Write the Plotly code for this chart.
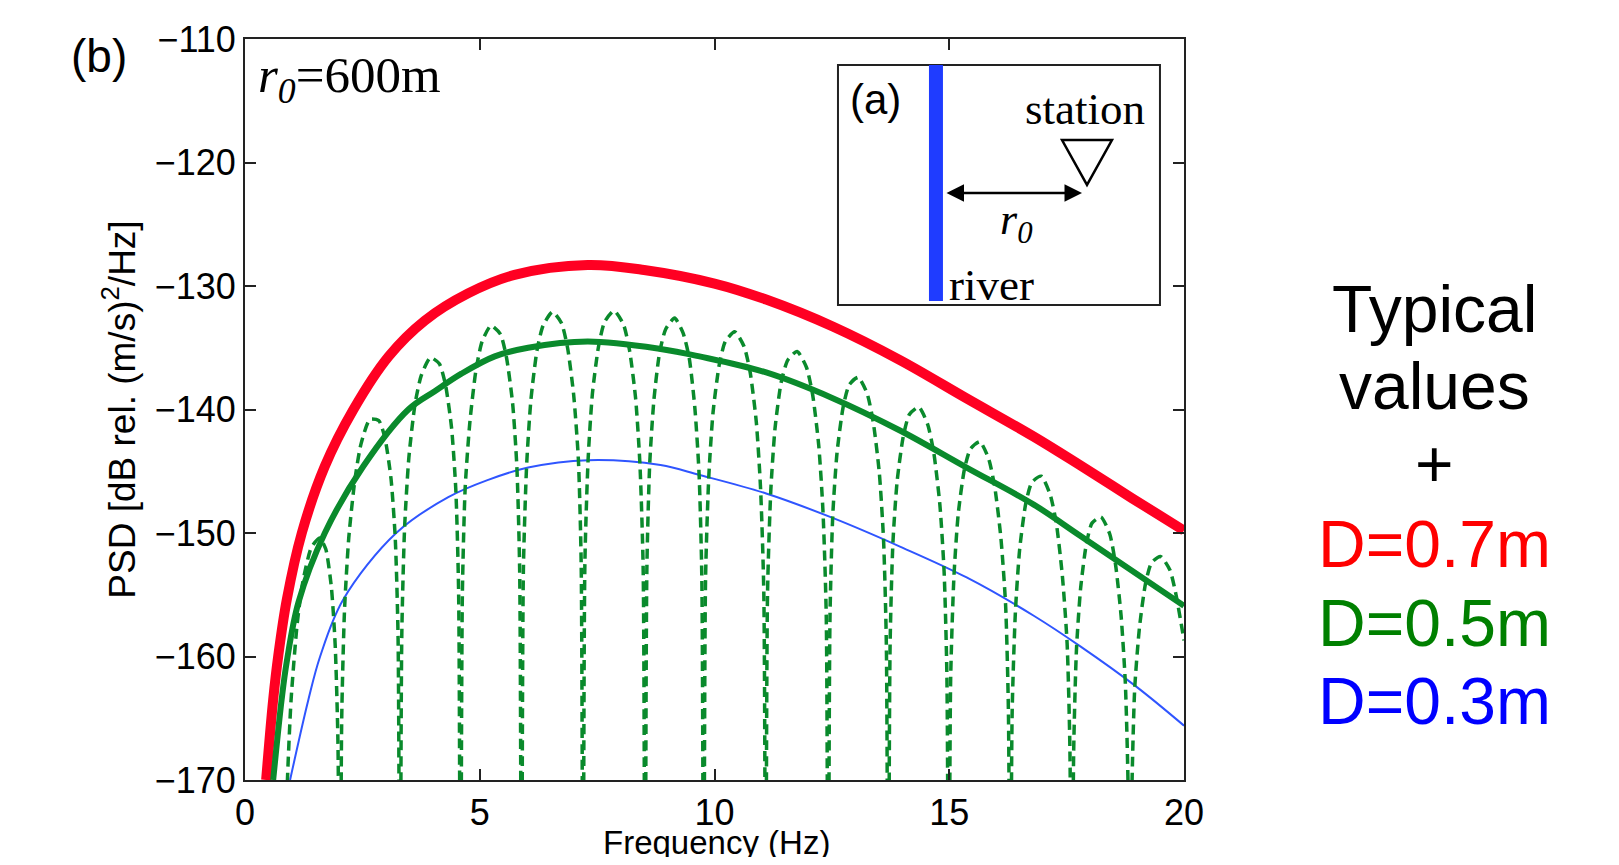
import plotly.graph_objects as go

# ---------------- data ----------------
# D = 0.7 m (red, thick)
red_freq = [0.45, 0.60, 0.71, 0.89, 1.21, 1.70, 2.31, 3.06, 3.83, 4.75, 5.74, 7.30,
            8.50, 10.00, 11.10, 12.53, 13.95, 15.37, 16.80, 17.78, 18.90, 20.00]
red_psd = [-170.0, -163.5, -159.9, -155.4, -150.0, -144.6, -140.0, -135.7, -132.8, -130.6, -129.1, -128.3,
           -128.7, -129.8, -131.1, -133.3, -136.0, -139.1, -142.2, -144.5, -147.2, -149.8]

# D = 0.5 m (green, solid)
green_freq = [0.60, 0.78, 0.89, 1.14, 1.70, 2.52, 3.48, 4.05, 4.61, 5.32, 6.03, 7.30,
              8.85, 9.68, 11.10, 12.53, 13.95, 15.37, 16.80, 17.78, 20.00]
green_psd = [-170.0, -163.5, -160.4, -155.6, -150.0, -144.6, -140.0, -138.5, -137.1, -135.7, -135.0, -134.5,
             -135.1, -135.7, -137.0, -139.1, -141.7, -144.7, -147.7, -150.2, -155.9]

# D = 0.3 m (blue, thin)
blue_freq = [0.96, 1.35, 1.60, 2.09, 3.22, 4.33, 5.18, 6.03, 7.30, 8.85, 9.68, 11.10,
             12.53, 13.95, 15.37, 16.80, 17.80, 18.97, 20.00]
blue_psd = [-170.0, -163.5, -160.0, -155.4, -150.0, -147.1, -145.7, -144.7, -144.1, -144.5, -145.3, -146.8,
            -148.8, -151.1, -153.6, -156.7, -159.2, -162.4, -165.6]

# D = 0.5 m (green, dashed, with notches; -200 = notch far below the axis)
NOTCH = -200
dashed_freq = [
    0.80, 0.84, 0.90, 0.98, 1.11, 1.23, 1.41, 1.59, 1.72, 1.84, 1.92, 1.98,
    2.02, 2.06, 2.12, 2.21, 2.34, 2.47, 2.66, 2.85, 2.98, 3.11, 3.20, 3.26,
    3.30, 3.34, 3.40, 3.49, 3.62, 3.75, 3.95, 4.14, 4.27, 4.40, 4.49, 4.55,
    4.59, 4.63, 4.69, 4.79, 4.92, 5.05, 5.24, 5.44, 5.57, 5.70, 5.79, 5.85,
    5.89, 5.93, 6.00, 6.09, 6.22, 6.35, 6.55, 6.74, 6.87, 7.00, 7.10, 7.16,
    7.20, 7.24, 7.31, 7.40, 7.53, 7.66, 7.86, 8.06, 8.19, 8.32, 8.41, 8.48,
    8.52, 8.56, 8.62, 8.71, 8.83, 8.96, 9.15, 9.33, 9.46, 9.58, 9.67, 9.73,
    9.77, 9.81, 9.88, 9.97, 10.10, 10.23, 10.43, 10.63, 10.76, 10.89, 10.98, 11.05,
    11.09, 11.13, 11.20, 11.29, 11.42, 11.56, 11.76, 11.96, 12.09, 12.22, 12.31, 12.38,
    12.42, 12.46, 12.52, 12.61, 12.74, 12.87, 13.06, 13.25, 13.38, 13.51, 13.60, 13.66,
    13.70, 13.74, 13.80, 13.89, 14.02, 14.15, 14.35, 14.54, 14.67, 14.80, 14.89, 14.95,
    14.99, 15.03, 15.10, 15.19, 15.32, 15.45, 15.65, 15.84, 15.97, 16.10, 16.20, 16.26,
    16.30, 16.34, 16.41, 16.50, 16.63, 16.76, 16.96, 17.15, 17.28, 17.41, 17.51, 17.57,
    17.61, 17.65, 17.71, 17.80, 17.92, 18.04, 18.23, 18.42, 18.54, 18.66, 18.75, 18.81,
    18.85, 18.89, 18.95, 19.05, 19.18, 19.31, 19.50, 19.70, 19.83, 19.96, 20.00,
]
dashed_psd = [
    -200, -180.6, -170.4, -163.6, -157.4, -154.0, -151.2, -150.4, -151.3, -154.4, -159.0, -167.0,
    -200, -165.0, -156.2, -150.4, -145.7, -142.8, -140.8, -140.9, -142.3, -145.6, -150.4, -158.4,
    -200, -158.2, -149.5, -143.9, -139.6, -137.3, -135.8, -136.3, -138.0, -141.5, -146.5, -154.8,
    -200, -154.9, -146.3, -141.0, -136.8, -134.5, -133.2, -133.9, -135.8, -139.5, -144.6, -153.0,
    -200, -152.9, -144.4, -139.2, -135.2, -133.2, -132.1, -133.0, -135.0, -138.8, -144.0, -152.4,
    -200, -152.3, -143.9, -138.7, -134.9, -132.9, -132.0, -133.1, -135.2, -139.1, -144.3, -152.8,
    -200, -152.8, -144.4, -139.2, -135.4, -133.5, -132.6, -133.8, -135.8, -139.8, -145.1, -153.6,
    -200, -153.6, -145.3, -140.2, -136.4, -134.5, -133.7, -134.9, -137.0, -141.0, -146.3, -154.8,
    -200, -154.8, -146.5, -141.5, -137.8, -136.0, -135.3, -136.6, -138.8, -142.9, -148.2, -156.7,
    -200, -156.8, -148.5, -143.5, -139.8, -138.0, -137.4, -138.7, -141.0, -145.1, -150.5, -159.0,
    -200, -159.1, -150.8, -145.8, -142.2, -140.4, -139.8, -141.2, -143.5, -147.7, -153.1, -161.6,
    -200, -161.8, -153.5, -148.5, -144.9, -143.2, -142.6, -144.0, -146.3, -150.4, -155.8, -164.4,
    -200, -164.5, -156.3, -151.3, -147.6, -145.9, -145.4, -146.9, -149.2, -153.5, -158.9, -167.5,
    -200, -167.7, -159.4, -154.4, -150.9, -149.2, -148.7, -150.1, -152.5, -156.7, -162.1, -170.7,
    -200, -170.9, -162.6, -157.7, -154.1, -152.4, -151.9, -153.0, -155.0, -157.8, -158.7,
]

x_ticks = [0, 5, 10, 15, 20]
y_ticks = [-170, -160, -150, -140, -130, -120, -110]

side_lines = ["Typical", "values", "+", "D=0.7m", "D=0.5m", "D=0.3m"]
side_colors = ["black", "black", "black", "#ff0000", "#008000", "#0000ff"]

# ---------------- split dashed curve into lobes at the notches ----------------
seg_x, seg_y = [], []
for i, (fx, vy) in enumerate(zip(dashed_freq, dashed_psd)):
    if vy == NOTCH and i > 0:
        seg_x += [fx, None]
        seg_y += [vy, None]
    seg_x.append(fx)
    seg_y.append(vy)

# ---------------- figure ----------------
SANS = "Liberation Sans, Arial, Helvetica, sans-serif"
SERIF = "Liberation Serif, Times New Roman, serif"
AX = "#222222"
GREEN = "#0a8a2c"

fig = go.Figure()
fig.add_trace(go.Scatter(x=red_freq, y=red_psd, mode="lines",
                         line=dict(color="#ff0022", width=10, shape="spline", smoothing=1.0),
                         name="D=0.7m"))
fig.add_trace(go.Scatter(x=green_freq, y=green_psd, mode="lines",
                         line=dict(color=GREEN, width=6, shape="spline", smoothing=1.0),
                         name="D=0.5m"))
fig.add_trace(go.Scatter(x=blue_freq, y=blue_psd, mode="lines",
                         line=dict(color="#2f55ff", width=2, shape="spline", smoothing=1.0),
                         name="D=0.3m"))
fig.add_trace(go.Scatter(x=seg_x, y=seg_y, mode="lines", connectgaps=False,
                         line=dict(color=GREEN, width=3.5, dash="10px,6px",
                                   shape="spline", smoothing=0.6),
                         name="D=0.5m (interference)"))

axis_common = dict(showline=True, linecolor=AX, linewidth=2, mirror="ticks",
                   ticks="inside", ticklen=11, tickwidth=2, tickcolor=AX,
                   showgrid=False, zeroline=False, automargin=False,
                   tickfont=dict(family=SANS, size=36, color="black"))

fig.update_xaxes(range=[0, 20], tickvals=x_ticks, ticktext=[str(v) for v in x_ticks],
                 **axis_common)
fig.update_yaxes(range=[-170, -110], tickvals=y_ticks,
                 ticktext=["\u2212" + str(-v) for v in y_ticks],
                 title=dict(text="PSD [dB rel. (m/s)<sup>2</sup>/Hz]",
                            font=dict(family=SANS, size=37, color="black"), standoff=8),
                 **axis_common)

annotations = []
# x-axis title (placed as annotation so it can sit right below the tick labels)
annotations.append(dict(text="Frequency (Hz)", x=0.502, y=-0.0838, xref="paper", yref="paper",
                        xanchor="center", yanchor="middle", showarrow=False,
                        font=dict(family=SANS, size=33, color="black")))
# right-hand text block
side_y = [0.6356, 0.5317, 0.4265, 0.3185, 0.2119, 0.1066]
for txt, col, yy in zip(side_lines, side_colors, side_y):
    annotations.append(dict(text=txt, x=1.267, y=yy, xref="paper", yref="paper",
                            xanchor="center", yanchor="middle", showarrow=False,
                            font=dict(family=SANS, size=66, color=col)))
# panel label (b)
annotations.append(dict(text="(b)", x=-0.1555, y=0.977, xref="paper", yref="paper",
                        xanchor="center", yanchor="middle", showarrow=False,
                        font=dict(family=SANS, size=46, color="black")))
# r0 = 600 m
annotations.append(dict(text="<i>r<sub>0</sub></i>=600m", x=0.012, y=0.946,
                        xref="paper", yref="paper", xanchor="left", yanchor="middle",
                        showarrow=False, font=dict(family=SERIF, size=51, color="black")))
# inset texts
annotations.append(dict(text="(a)", x=0.671, y=0.918, xref="paper", yref="paper",
                        xanchor="center", yanchor="middle", showarrow=False,
                        font=dict(family=SANS, size=42, color="black")))
annotations.append(dict(text="station", x=0.8946, y=0.905, xref="paper", yref="paper",
                        xanchor="center", yanchor="middle", showarrow=False,
                        font=dict(family=SERIF, size=45, color="black")))
annotations.append(dict(text="river", x=0.7945, y=0.668, xref="paper", yref="paper",
                        xanchor="center", yanchor="middle", showarrow=False,
                        font=dict(family=SERIF, size=45, color="black")))
annotations.append(dict(text="<i>r<sub>0</sub></i>", x=0.8220, y=0.752, xref="paper", yref="paper",
                        xanchor="center", yanchor="middle", showarrow=False,
                        font=dict(family=SERIF, size=44, color="black")))
# double-headed arrow
annotations.append(dict(text="", x=0.8914, y=0.7922, xref="paper", yref="paper",
                        ax=-137, ay=0, showarrow=True, arrowhead=2, startarrowhead=2,
                        arrowside="end+start", arrowsize=1.4, startarrowsize=1.4,
                        arrowwidth=2.5, arrowcolor="black"))

shapes = [
    # inset box
    dict(type="rect", xref="paper", yref="paper", x0=0.6315, x1=0.9744, y0=0.641, y1=0.9649,
         line=dict(color=AX, width=2), fillcolor="white", layer="above"),
    # river bar
    dict(type="rect", xref="paper", yref="paper", x0=0.7284, x1=0.7433, y0=0.6464, y1=0.9649,
         line=dict(width=0), fillcolor="#1f3cff", layer="above"),
    # station triangle
    dict(type="path", xref="paper", yref="paper",
         path="M 0.8701 0.8637 L 0.9233 0.8637 L 0.8967 0.8030 Z",
         line=dict(color="black", width=2.5), fillcolor="rgba(0,0,0,0)", layer="above"),
]

# the page adds an 8px body margin, so the figure is 16px smaller than the window
fig.update_layout(
    width=1603, height=849,
    margin=dict(l=237, r=427, t=31, b=77, autoexpand=False),
    paper_bgcolor="white", plot_bgcolor="white",
    showlegend=False,
    annotations=annotations,
    shapes=shapes,
)

fig.write_html("out.html")
